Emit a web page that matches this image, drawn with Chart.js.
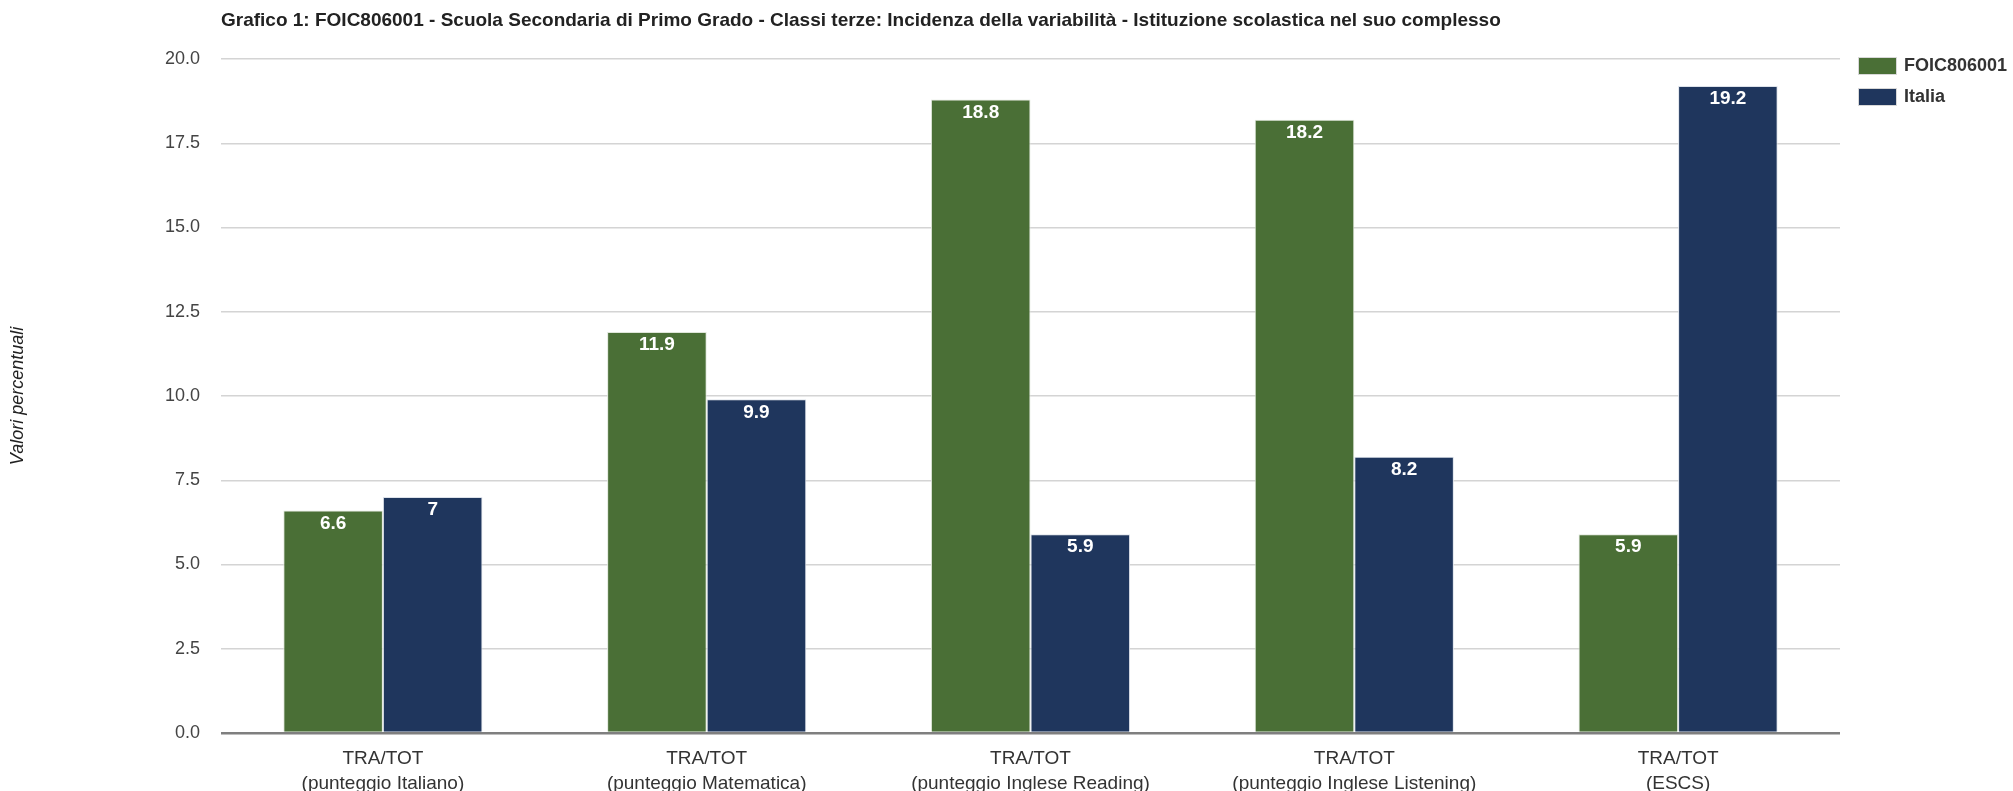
<!DOCTYPE html>
<html>
<head>
<meta charset="utf-8">
<script src="https://cdn.jsdelivr.net/npm/chart.js@4"></script>
<style>
html, body { margin: 0; padding: 0; background: #fff; }
#wrap { position: relative; width: 2013px; height: 791px; }
#title { position: absolute; left: 221px; top: 9px; font: bold 19px "Liberation Sans", Arial, sans-serif; color: #222; white-space: nowrap; }
</style>
</head>
<body>
<div id="wrap">
<canvas id="chart" width="2013" height="791"></canvas>
<div id="title">Grafico 1: FOIC806001 - Scuola Secondaria di Primo Grado - Classi terze: Incidenza della variabilità - Istituzione scolastica nel suo complesso</div>
</div>
<script>
const categories = [
['TRA/TOT', '(punteggio Italiano)'],
['TRA/TOT', '(punteggio Matematica)'],
['TRA/TOT', '(punteggio Inglese Reading)'],
['TRA/TOT', '(punteggio Inglese Listening)'],
['TRA/TOT', '(ESCS)']
];
const seriesNames = ['FOIC806001', 'Italia'];
const foicValues = [6.6, 11.9, 18.8, 18.2, 5.9];
const italiaValues = [7, 9.9, 5.9, 8.2, 19.2];
const yTicks = [0, 2.5, 5, 7.5, 10, 12.5, 15, 17.5, 20];

const GREEN = '#4a6f36';
const BLUE = '#1f365d';
const FONT = '"Liberation Sans", Arial, sans-serif';

// white value labels at the top of each bar
const valueLabels = {
id: 'valueLabels',
afterDatasetsDraw: function(chart) {
var ctx = chart.ctx;
ctx.save();
ctx.font = 'bold 19px ' + FONT;
ctx.fillStyle = '#ffffff';
ctx.textAlign = 'center';
ctx.textBaseline = 'middle';
chart.data.datasets.forEach(function(ds, i) {
chart.getDatasetMeta(i).data.forEach(function(bar, j) {
ctx.fillText(String(ds.data[j]), bar.x, bar.y + 13);
});
});
ctx.restore();
}
};

// legend at the top right, like the original
const sideLegend = {
id: 'sideLegend',
afterDraw: function(chart) {
var ctx = chart.ctx;
ctx.save();
ctx.font = 'bold 18px ' + FONT;
ctx.textBaseline = 'middle';
ctx.textAlign = 'left';
chart.data.datasets.forEach(function(ds, i) {
var y = 66 + i * 31;
ctx.fillStyle = ds.backgroundColor;
ctx.fillRect(1858, y - 9, 39, 18);
ctx.strokeStyle = '#d8d8d8';
ctx.lineWidth = 1;
ctx.strokeRect(1858.5, y - 8.5, 38, 17);
ctx.fillStyle = '#333';
ctx.fillText(ds.label, 1904, y);
});
ctx.restore();
}
};

new Chart(document.getElementById('chart').getContext('2d'), {
type: 'bar',
data: {
labels: categories,
datasets: [
{ label: seriesNames[0], data: foicValues, backgroundColor: GREEN, borderColor: '#dfe6da', borderWidth: 1 },
{ label: seriesNames[1], data: italiaValues, backgroundColor: BLUE, borderColor: '#dde2ea', borderWidth: 1 }
]
},
options: {
responsive: false,
animation: false,
layout: { padding: { top: 59, right: 173, bottom: 0, left: 0 } },
datasets: { bar: { categoryPercentage: 0.615, barPercentage: 1 } },
plugins: {
legend: { display: false },
title: { display: false },
tooltip: { enabled: false }
},
scales: {
x: {
grid: { display: false },
border: { display: false },
ticks: { color: '#333', font: { family: FONT, size: 19, lineHeight: 1.32 }, padding: 5, maxRotation: 0 },
afterFit: function(s) { s.height = 58; }
},
y: {
min: 0, max: 20,
afterBuildTicks: function(s) { s.ticks = yTicks.map(function(v) { return { value: v }; }); },
border: { display: false },
grid: {
drawTicks: false,
color: function(c) { return c.tick && c.tick.value === 0 ? '#7f7f7f' : '#d4d4d4'; },
lineWidth: function(c) { return c.tick && c.tick.value === 0 ? 2.5 : 1.5; }
},
ticks: { color: '#444', font: { family: FONT, size: 18 }, padding: 21, callback: function(v) { return Number(v).toFixed(1); } },
title: { display: true, text: 'Valori percentuali', color: '#222', font: { family: FONT, size: 18, style: 'italic' }, padding: { top: 7, bottom: 0 } },
afterFit: function(s) { s.width = 221; }
}
}
},
plugins: [valueLabels, sideLegend]
});
</script>
</body>
</html>
